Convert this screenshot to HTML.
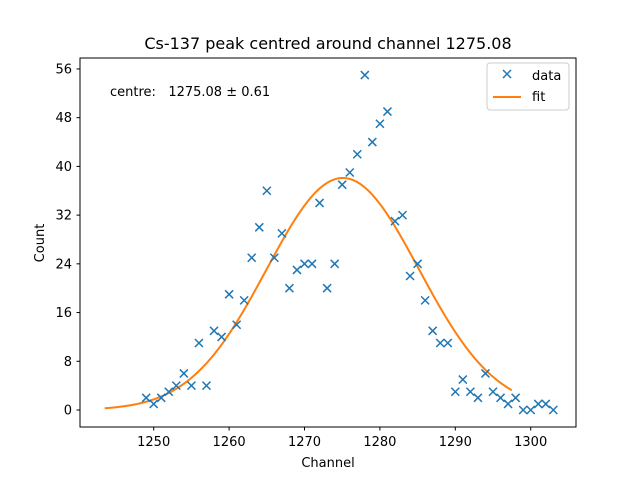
<!DOCTYPE html>
<html><head><meta charset="utf-8"><style>body{margin:0;background:#fff}svg{font-family:"DejaVu Sans","Liberation Sans",sans-serif}</style></head>
<body>
<svg id="chart" width="640" height="480" viewBox="0 0 640 480">
<rect width="640" height="480" fill="#fff"/>
<text x="328" y="49" font-size="16" text-anchor="middle">Cs-137 peak centred around channel 1275.08</text>
<rect x="80" y="58" width="496" height="369" fill="none" stroke="#000" stroke-width="1"/>
<g id="ticks"></g>
<g id="fit"></g>
<g id="pts"></g>
<text x="110" y="96" font-size="13">centre:&#160;&#160;&#160;1275.08 ± 0.61</text>
<g>
<rect x="487" y="63" width="82" height="47" rx="3" fill="#fff" stroke="#ccc"/>
<path d="M503,70 l8,8 M511,70 l-8,8" stroke="#1f77b4" stroke-width="1.5"/>
<text x="532" y="80" font-size="13">data</text>
<line x1="493" y1="97" x2="521" y2="97" stroke="#ff7f0e" stroke-width="2"/>
<text x="532" y="101" font-size="13">fit</text>
</g>
<text x="328" y="467" font-size="13" text-anchor="middle">Channel</text>
<text x="44" y="243" font-size="13" text-anchor="middle" transform="rotate(-90 44 243)">Count</text>
</svg>
<script>
const channels = [1249,1250,1251,1252,1253,1254,1255,1256,1257,1258,1259,1260,1261,1262,1263,1264,1265,1266,1267,1268,1269,1270,1271,1272,1273,1274,1275,1276,1277,1278,1279,1280,1281,1282,1283,1284,1285,1286,1287,1288,1289,1290,1291,1292,1293,1294,1295,1296,1297,1298,1299,1300,1301,1302,1303];
const counts = [2,1,2,3,4,6,4,11,4,13,12,19,14,18,25,30,36,25,29,20,23,24,24,34,20,24,37,39,42,55,44,47,49,31,32,22,24,18,13,11,11,3,5,3,2,6,3,2,1,2,0,0,1,1,0];
const xTicks = [1250,1260,1270,1280,1290,1300];
const yTicks = [0,8,16,24,32,40,48,56];
const fitAmp = 38.1, fitCentre = 1275.08, fitSigma = 10.1, fitStart = 1243.5, fitEnd = 1297.5;

const X = v => 455.3 + (v - 1290) * 7.54;
const Y = v => 410 - v * 6.09;
const NS = "http://www.w3.org/2000/svg";
function mk(tag, attrs, parent) { const e = document.createElementNS(NS, tag); for (const k in attrs) e.setAttribute(k, attrs[k]); parent.appendChild(e); return e; }

const tg = document.getElementById('ticks');
xTicks.forEach(t => {
  const l = mk('line', {x1: X(t), x2: X(t), y1: 427, y2: 430.5, stroke: '#000'}, tg);
  
  
  const s = mk('text', {x: X(t), y: 446, 'font-size': 13, 'text-anchor': 'middle'}, tg);
  s.textContent = t;
  
  
});
yTicks.forEach(t => {
  const l = mk('line', {x1: 76.5, x2: 80, y1: Y(t), y2: Y(t), stroke: '#000'}, tg);
  
  
  const s = mk('text', {x: 72, y: Y(t) + 4.5, 'font-size': 13, 'text-anchor': 'end'}, tg);
  s.textContent = t;
  
  
});

let d = '';
for (let i = 0; i <= 200; i++) {
  const c = fitStart + (fitEnd - fitStart) * i / 200;
  const v = fitAmp * Math.exp(-Math.pow(c - fitCentre, 2) / (2 * fitSigma * fitSigma));
  d += (i ? 'L' : 'M') + X(c).toFixed(2) + ',' + Y(v).toFixed(2);
}
const fp = mk('path', {d: d, fill: 'none', stroke: '#ff7f0e', 'stroke-width': 2}, document.getElementById('fit'));



const pg = document.getElementById('pts');
channels.forEach((c, i) => {
  const x = X(c), y = Y(counts[i]);
  const p = mk('path', {d: `M${x-4},${y-4}L${x+4},${y+4}M${x+4},${y-4}L${x-4},${y+4}`, stroke: '#1f77b4', 'stroke-width': 1.5}, pg);
  
  
});
</script>
</body></html>
